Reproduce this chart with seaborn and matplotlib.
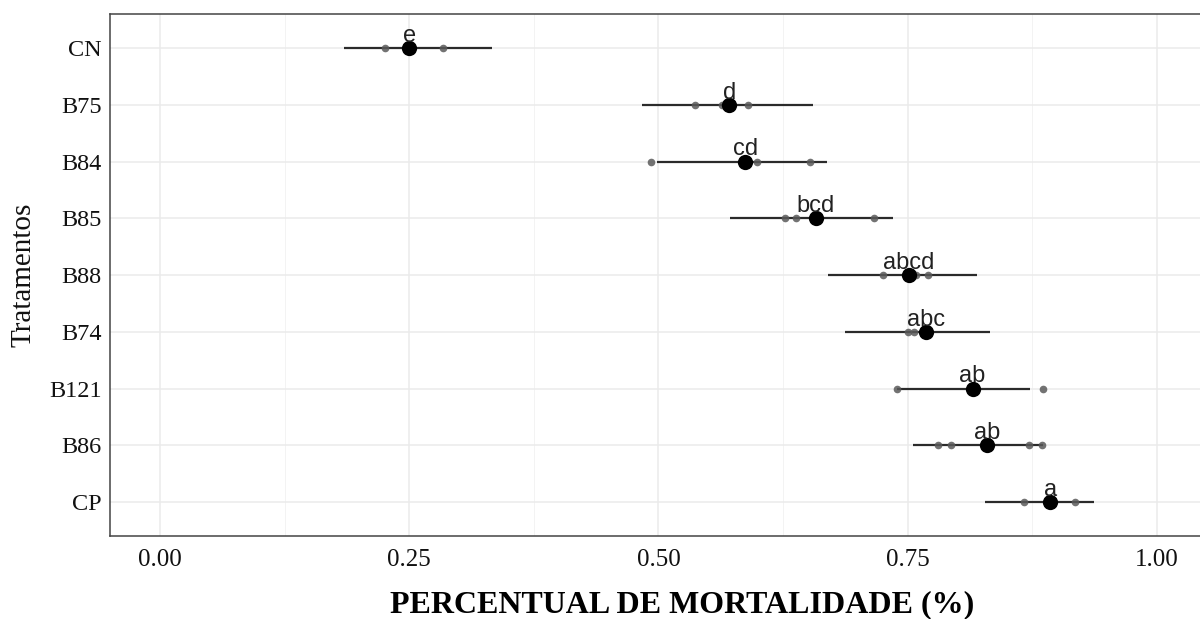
import numpy as np
import pandas as pd
import matplotlib
matplotlib.use("Agg")
import matplotlib.pyplot as plt
import seaborn as sns
from matplotlib.ticker import MultipleLocator, FormatStrFormatter

# treatments, top to bottom
treatments = ["CN", "B75", "B84", "B85", "B88", "B74", "B121", "B86", "CP"]
means = [0.250, 0.571, 0.587, 0.658, 0.751, 0.768, 0.815, 0.830, 0.893]
lower = [0.185, 0.484, 0.499, 0.572, 0.670, 0.687, 0.739, 0.755, 0.828]
upper = [0.333, 0.655, 0.669, 0.735, 0.819, 0.833, 0.873, 0.886, 0.937]
letters = ["e", "d", "cd", "bcd", "abcd", "abc", "ab", "ab", "a"]

# individual replicates (grey points)
reps = [
    [0.226, 0.250, 0.284],
    [0.537, 0.564, 0.590],
    [0.493, 0.599, 0.652],
    [0.627, 0.638, 0.716],
    [0.725, 0.758, 0.770],
    [0.750, 0.756, 0.768],
    [0.739, 0.815, 0.886],
    [0.780, 0.793, 0.872, 0.885],
    [0.867, 0.893, 0.918],
]

rep_df = pd.DataFrame(
    [(t, v) for t, vals in zip(treatments, reps) for v in vals],
    columns=["trat", "mort"],
)
mean_df = pd.DataFrame({"trat": treatments, "mort": means})

sns.set_style("white")
plt.rcParams["font.family"] = ["Liberation Serif", "DejaVu Serif"]

fig = plt.figure(figsize=(12, 6.19), dpi=100)
ax = fig.add_axes([0.0917, 0.134, 0.914, 0.843])

pos = np.arange(len(treatments))
ax.hlines(pos, lower, upper, color="#2b2b2b", lw=1.6, zorder=2)

sns.stripplot(data=rep_df, x="mort", y="trat", order=treatments, jitter=False,
              color="#5a5a5a", alpha=0.85, size=5.5, linewidth=0, zorder=3, ax=ax)
sns.stripplot(data=mean_df, x="mort", y="trat", order=treatments, jitter=False,
              color="black", size=11, linewidth=0, zorder=4, ax=ax)

for i, (m, lab) in enumerate(zip(means, letters)):
    ax.annotate(lab, (m, i), xytext=(0, 4.5), textcoords="offset points",
                ha="center", va="baseline", fontsize=17, color="#222222",
                family=["Liberation Sans", "DejaVu Sans"], zorder=5)

ax.set_xlim(-0.05, 1.05)
ax.set_ylim(len(treatments) - 0.4, -0.6)
ax.xaxis.set_major_locator(MultipleLocator(0.25))
ax.xaxis.set_minor_locator(MultipleLocator(0.125))
ax.xaxis.set_major_formatter(FormatStrFormatter("%.2f"))

ax.set_axisbelow(True)
ax.grid(which="major", color="#ebebeb", lw=1.1)
ax.grid(which="minor", axis="x", color="#f3f3f3", lw=0.7)

for s in ax.spines.values():
    s.set_visible(True)
    s.set_color("#444444")
    s.set_linewidth(1.1)

ax.tick_params(which="major", length=4, width=1, color="#444444", pad=2,
               labelsize=17.5, labelcolor="#111111")
ax.tick_params(axis="x", which="major", pad=5, labelsize=18)
ax.tick_params(which="minor", length=0)

ax.set_xlabel("PERCENTUAL DE MORTALIDADE (%)", fontsize=23, fontweight="bold",
              va="baseline", color="black")
ax.xaxis.set_label_coords(0.522, -0.146, transform=ax.transAxes)
ax.set_ylabel("Tratamentos", fontsize=21, labelpad=9, color="#111111")

fig.savefig("out.png", dpi=100)
